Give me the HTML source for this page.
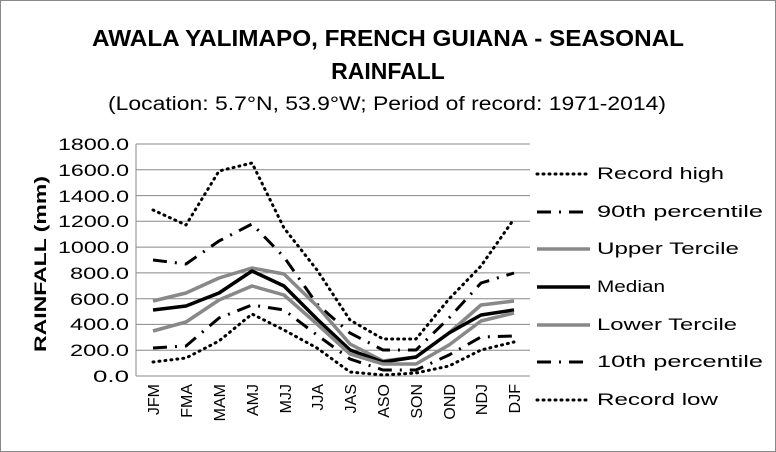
<!DOCTYPE html><html><head><style>body{margin:0}svg{display:block}</style></head><body>
<svg width="776" height="452" xmlns="http://www.w3.org/2000/svg" font-family="Liberation Sans, sans-serif">
<rect x="0.5" y="0.5" width="775" height="451" fill="#fff" stroke="#888"/>
<text x="92" y="46" textLength="592" lengthAdjust="spacingAndGlyphs" font-size="23" font-weight="bold">AWALA YALIMAPO, FRENCH GUIANA - SEASONAL</text>
<text x="388" y="79" text-anchor="middle" font-size="23" font-weight="bold">RAINFALL</text>
<text x="108" y="110" textLength="558" lengthAdjust="spacingAndGlyphs" font-size="19">(Location: 5.7°N, 53.9°W; Period of record: 1971-2014)</text>
<g stroke="#888" stroke-width="1">
<line x1="136" y1="144" x2="530" y2="144"/><line x1="136" y1="169.8" x2="530" y2="169.8"/><line x1="136" y1="195.6" x2="530" y2="195.6"/><line x1="136" y1="221.3" x2="530" y2="221.3"/><line x1="136" y1="247.1" x2="530" y2="247.1"/><line x1="136" y1="272.9" x2="530" y2="272.9"/><line x1="136" y1="298.7" x2="530" y2="298.7"/><line x1="136" y1="324.4" x2="530" y2="324.4"/><line x1="136" y1="350.2" x2="530" y2="350.2"/><line x1="136" y1="376" x2="530" y2="376"/><line x1="136" y1="144" x2="136" y2="376"/>
</g>
<g font-size="17" text-anchor="end">
<text x="129" y="150" textLength="71" lengthAdjust="spacingAndGlyphs">1800.0</text><text x="129" y="176" textLength="71" lengthAdjust="spacingAndGlyphs">1600.0</text><text x="129" y="202" textLength="71" lengthAdjust="spacingAndGlyphs">1400.0</text><text x="129" y="227" textLength="71" lengthAdjust="spacingAndGlyphs">1200.0</text><text x="129" y="253" textLength="71" lengthAdjust="spacingAndGlyphs">1000.0</text><text x="129" y="279" textLength="59" lengthAdjust="spacingAndGlyphs">800.0</text><text x="129" y="305" textLength="59" lengthAdjust="spacingAndGlyphs">600.0</text><text x="129" y="330" textLength="59" lengthAdjust="spacingAndGlyphs">400.0</text><text x="129" y="356" textLength="59" lengthAdjust="spacingAndGlyphs">200.0</text><text x="129" y="382" textLength="36" lengthAdjust="spacingAndGlyphs">0.0</text>
</g>
<text transform="translate(46,264) rotate(-90)" text-anchor="middle" font-size="17" font-weight="bold" textLength="176" lengthAdjust="spacingAndGlyphs">RAINFALL (mm)</text>
<g font-size="16" text-anchor="end">
<text transform="translate(159,384) rotate(-90)">JFM</text><text transform="translate(192,384) rotate(-90)">FMA</text><text transform="translate(225,384) rotate(-90)">MAM</text><text transform="translate(258,384) rotate(-90)">AMJ</text><text transform="translate(291,384) rotate(-90)">MJJ</text><text transform="translate(323,384) rotate(-90)">JJA</text><text transform="translate(356,384) rotate(-90)">JAS</text><text transform="translate(389,384) rotate(-90)">ASO</text><text transform="translate(422,384) rotate(-90)">SON</text><text transform="translate(455,384) rotate(-90)">OND</text><text transform="translate(487,384) rotate(-90)">NDJ</text><text transform="translate(520,384) rotate(-90)">DJF</text>
</g>
<g fill="none" stroke-linejoin="round">
<polyline stroke="#000" stroke-width="3" stroke-dasharray="1,5" stroke-linecap="round" points="153,210 186,225 219,171 252,163 284,228 317,270 350,320 383,339 416,339 449,299 481,266 514,219"/>
<polyline stroke="#000" stroke-width="3" stroke-dasharray="14,8,2,8" points="153,260 186,264 219,241 252,224 284,257 317,304 350,333 383,350 416,350 449,318 481,283 514,273"/>
<polyline stroke="#888" stroke-width="3.5" points="153,301 186,293 219,278 252,268 284,274 317,306 350,344 383,361 416,357 449,333 481,305 514,301"/>
<polyline stroke="#000" stroke-width="3.5" points="153,310 186,306 219,293 252,271 284,286 317,319 350,350 383,362 416,357 449,333 481,315 514,310"/>
<polyline stroke="#888" stroke-width="3.5" points="153,331 186,322 219,300 252,286 284,295 317,324 350,354 383,364 416,364 449,345 481,321 514,313"/>
<polyline stroke="#000" stroke-width="3" stroke-dasharray="14,8,2,8" points="153,348 186,346 219,318 252,305 284,310 317,335 350,359 383,370 416,370 449,355 481,337 514,336"/>
<polyline stroke="#000" stroke-width="3" stroke-dasharray="1,5" stroke-linecap="round" points="153,362 186,358 219,341 252,314 284,330 317,348 350,372 383,375 416,373 449,366 481,350 514,342"/>
</g>
<g fill="none">
<line x1="537" y1="174" x2="590" y2="174" stroke="#000" stroke-width="3" stroke-dasharray="1,5" stroke-linecap="round"/>
<line x1="537" y1="212" x2="590" y2="212" stroke="#000" stroke-width="3" stroke-dasharray="14,8,2,8"/>
<line x1="537" y1="249" x2="590" y2="249" stroke="#888" stroke-width="3.5"/>
<line x1="537" y1="287" x2="590" y2="287" stroke="#000" stroke-width="3.5"/>
<line x1="537" y1="325" x2="590" y2="325" stroke="#888" stroke-width="3.5"/>
<line x1="537" y1="362" x2="590" y2="362" stroke="#000" stroke-width="3" stroke-dasharray="14,8,2,8"/>
<line x1="537" y1="400" x2="590" y2="400" stroke="#000" stroke-width="3" stroke-dasharray="1,5" stroke-linecap="round"/>
</g>
<g font-size="17">
<text x="597" y="179" textLength="127" lengthAdjust="spacingAndGlyphs">Record high</text><text x="597" y="217" textLength="166" lengthAdjust="spacingAndGlyphs">90th percentile</text><text x="597" y="254" textLength="142" lengthAdjust="spacingAndGlyphs">Upper Tercile</text><text x="597" y="292" textLength="68" lengthAdjust="spacingAndGlyphs">Median</text><text x="597" y="330" textLength="140" lengthAdjust="spacingAndGlyphs">Lower Tercile</text><text x="597" y="367" textLength="166" lengthAdjust="spacingAndGlyphs">10th percentile</text><text x="597" y="405" textLength="121" lengthAdjust="spacingAndGlyphs">Record low</text>
</g>
</svg>
</body></html>
